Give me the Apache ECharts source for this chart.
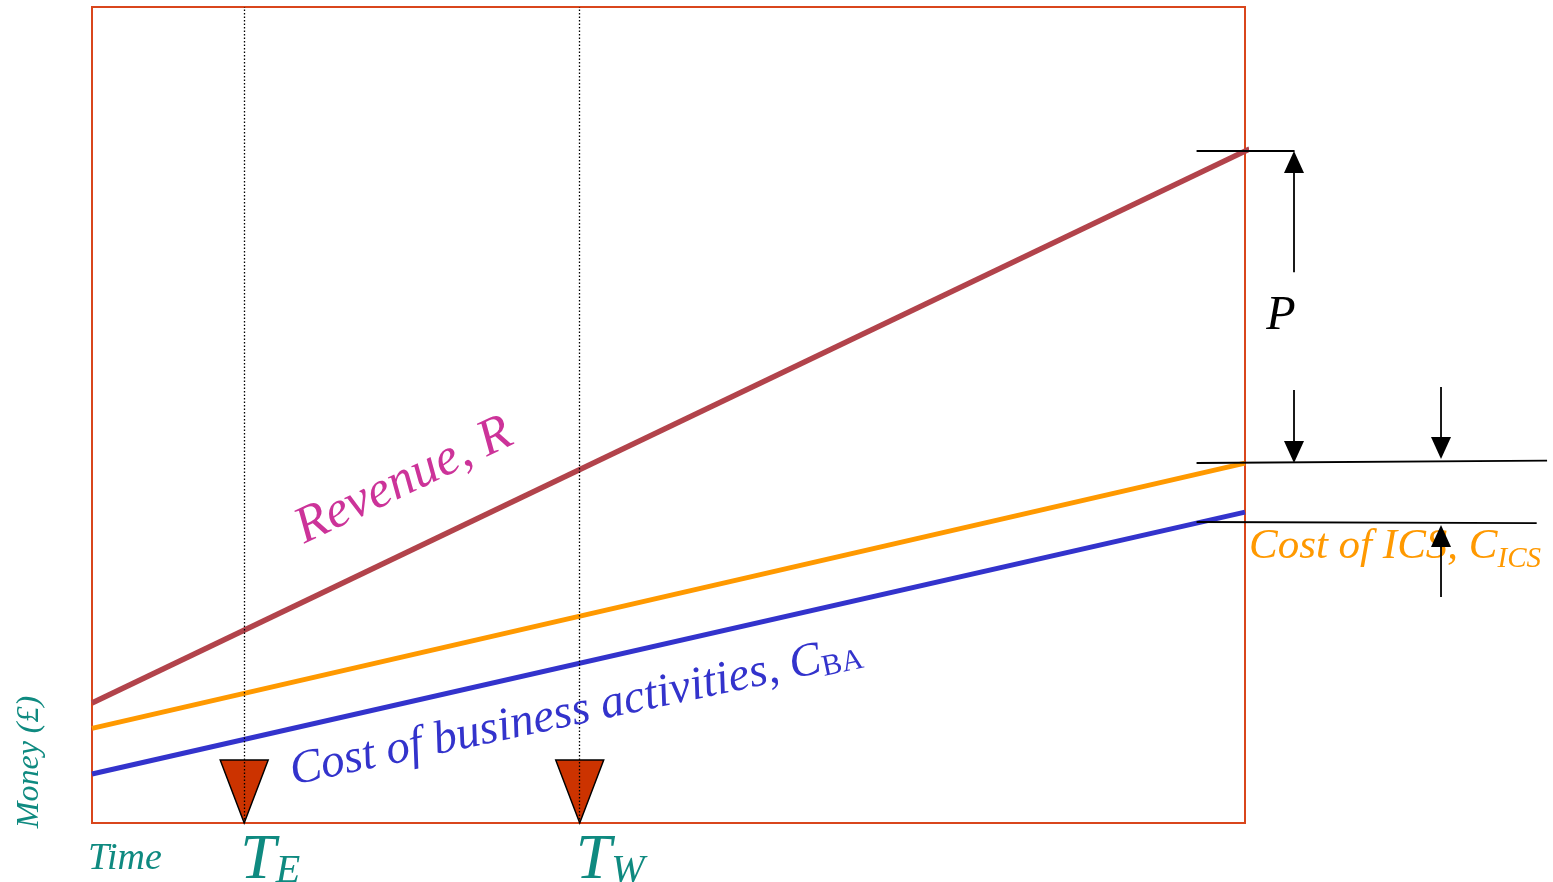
<!DOCTYPE html>
<html>
<head>
<meta charset="utf-8">
<script src="https://cdn.jsdelivr.net/npm/echarts@6/dist/echarts.min.js"></script>
<style>
html,body{margin:0;padding:0;background:#fff;}
#chart{width:1553px;height:882px;}
</style>
</head>
<body>
<div id="chart"></div>
<script>
// ---- data (axis units: time 0..100, money 0..100) ----
const timeRange = [0, 100];
const moneyRange = [0, 100];
const revenue = [[0, 14.7], [100.4, 82.6]];
const costICS = [[0, 11.6], [100, 44.1]];
const costBA = [[0, 6.0], [100, 38.1]];
const milestoneTimes = [13.2, 42.3];
const milestoneMain = ['T', 'T'];
const milestoneSub = ['E', 'W'];
// annotation reference lines (in axis units)
const refLines = [
  [[95.8, 82.35], [104.3, 82.35]],
  [[95.8, 44.12], [126.2, 44.42]],
  [[95.8, 36.89], [125.3, 36.76]]
];
// arrows: [from, tip]
const arrows = [
  [[104.25, 67.5], [104.25, 82.35]],
  [[104.25, 53.06], [104.25, 44.12]],
  [[117.0, 53.43], [117.0, 44.61]],
  [[117.0, 27.7], [117.0, 36.52]]
];

const serif = '"Liberation Serif", "DejaVu Serif", serif';
const teal = '#0f8a80';

const chart = echarts.init(document.getElementById('chart'));
chart.setOption({
  animation: false,
  grid: {left: 92, top: 7, width: 1153, height: 816, show: true, borderColor: '#d9461c', borderWidth: 2, backgroundColor: 'transparent'},
  xAxis: {type: 'value', min: timeRange[0], max: timeRange[1], show: false, splitLine: {show: false}},
  yAxis: {type: 'value', min: moneyRange[0], max: moneyRange[1], show: false, splitLine: {show: false}},
  series: [
    {type: 'line', data: revenue, symbol: 'none', clip: false, lineStyle: {color: '#b2434b', width: 5.5}, z: 3},
    {type: 'line', data: costICS, symbol: 'none', lineStyle: {color: '#ff9900', width: 5}, z: 3},
    {type: 'line', data: costBA, symbol: 'none', lineStyle: {color: '#3333cc', width: 5}, z: 3},
    {
      type: 'scatter',
      data: milestoneTimes.map(t => [t, 0]),
      symbol: 'path://M0,0 L48,0 L24,63 Z',
      symbolSize: [48, 63],
      symbolOffset: [0, -31.5],
      clip: false,
      itemStyle: {color: '#cc3300', borderColor: '#000', borderWidth: 1.5, opacity: 1},
      z: 4,
      silent: true,
      markLine: {
        silent: true,
        symbol: 'none',
        label: {show: false},
        lineStyle: {color: '#000', type: [1.5, 2], width: 1.3},
        data: milestoneTimes.map(t => ({xAxis: t})),
        z: 5
      }
    }
  ]
});

const px = p => chart.convertToPixel({gridIndex: 0}, p);
const g = [];
refLines.forEach(l => {
  const a = px(l[0]), b = px(l[1]);
  g.push({type: 'line', shape: {x1: a[0], y1: a[1], x2: b[0], y2: b[1]}, style: {stroke: '#000', lineWidth: 1.8}, z: 10});
});
arrows.forEach(ar => {
  const a = px(ar[0]), b = px(ar[1]);
  const dir = Math.sign(b[1] - a[1]);
  const hl = 22, hw = 10;
  const baseY = b[1] - dir * hl;
  g.push({type: 'line', shape: {x1: a[0], y1: a[1], x2: b[0], y2: baseY}, style: {stroke: '#000', lineWidth: 1.8}, z: 12});
  g.push({type: 'polygon', shape: {points: [[b[0], b[1]], [b[0] - hw, baseY], [b[0] + hw, baseY]]}, style: {fill: '#000'}, z: 12});
});
// milestone labels
milestoneTimes.forEach((t, i) => {
  const p = px([t, 0]);
  g.push({type: 'text', x: p[0] - 4, y: 893, z: 10, style: {
    text: '{a|' + milestoneMain[i] + '}{b|' + milestoneSub[i] + '}',
    textVerticalAlign: 'bottom',
    rich: {
      a: {fontFamily: serif, fontStyle: 'italic', fontSize: 64, fill: teal, verticalAlign: 'bottom'},
      b: {fontFamily: serif, fontStyle: 'italic', fontSize: 40, fill: teal, verticalAlign: 'bottom', padding: [0, 0, 2, 0]}
    }
  }});
});
// texts
g.push({type: 'text', x: 88, y: 878, z: 10, style: {text: 'Time', fontFamily: serif, fontStyle: 'italic', fontSize: 38, fill: teal, textVerticalAlign: 'bottom'}});
g.push({type: 'text', x: 30, y: 762, rotation: Math.PI / 2, z: 10, style: {text: 'Money (£)', fontFamily: serif, fontStyle: 'italic', fontSize: 32, fill: teal, textAlign: 'center', textVerticalAlign: 'middle'}});
g.push({type: 'text', x: 1281, y: 316, z: 10, style: {text: 'P', fontFamily: serif, fontStyle: 'italic', fontSize: 48, fill: '#000', textAlign: 'center', textVerticalAlign: 'middle'}});
g.push({type: 'text', x: 404, y: 481, rotation: 25.5 * Math.PI / 180, z: 10, style: {text: 'Revenue, R', fontFamily: serif, fontStyle: 'italic', fontSize: 52, fill: '#cc3399', textAlign: 'center', textVerticalAlign: 'middle'}});
g.push({type: 'text', x: 576, y: 712, rotation: 12 * Math.PI / 180, z: 10, style: {
  text: '{a|Cost of business activities, C}{b|BA}',
  textAlign: 'center', textVerticalAlign: 'middle',
  rich: {
    a: {fontFamily: serif, fontStyle: 'italic', fontSize: 47, fill: '#3333cc', verticalAlign: 'bottom'},
    b: {fontFamily: serif, fontSize: 30, fill: '#3333cc', verticalAlign: 'bottom'}
  }
}});
g.push({type: 'text', x: 1249, y: 574, z: 10, style: {
  text: '{a|Cost of ICS, C}{b|ICS}',
  textVerticalAlign: 'bottom',
  rich: {
    a: {fontFamily: serif, fontStyle: 'italic', fontSize: 43, fill: '#ff9900', verticalAlign: 'bottom', padding: [0, 0, 6, 0]},
    b: {fontFamily: serif, fontStyle: 'italic', fontSize: 29, fill: '#ff9900', verticalAlign: 'bottom'}
  }
}});
chart.setOption({graphic: g});
</script>
</body>
</html>
